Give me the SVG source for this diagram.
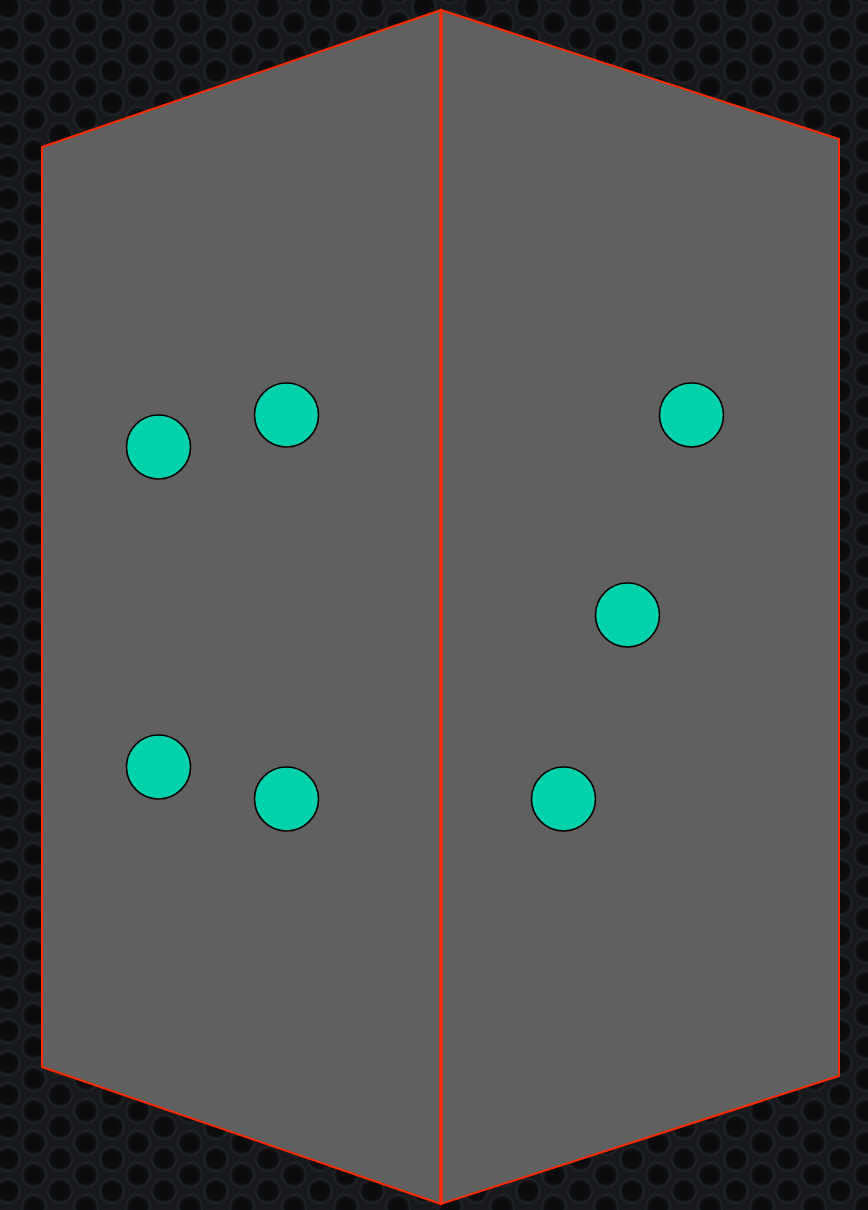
<svg xmlns="http://www.w3.org/2000/svg" width="868" height="1210" viewBox="0 0 868 1210">
  <defs>
    <radialGradient id="hole" cx="0.5" cy="0.5" r="0.5">
      <stop offset="0" stop-color="#090a0b"/>
      <stop offset="0.7" stop-color="#0c0d0f"/>
      <stop offset="0.85" stop-color="#181a1d"/>
      <stop offset="0.95" stop-color="#24272a"/>
      <stop offset="1" stop-color="#191b1e"/>
    </radialGradient>
    <pattern id="mesh" x="8" y="7" width="52" height="32" patternUnits="userSpaceOnUse">
      <rect width="52" height="32" fill="#17191c"/>
      <circle cx="0" cy="0" r="13" fill="url(#hole)"/>
      <circle cx="52" cy="0" r="13" fill="url(#hole)"/>
      <circle cx="0" cy="32" r="13" fill="url(#hole)"/>
      <circle cx="52" cy="32" r="13" fill="url(#hole)"/>
      <circle cx="26" cy="16" r="13" fill="url(#hole)"/>
    </pattern>
  </defs>
  <style>
    .panel { fill: #606060; stroke: #ff2a00; stroke-width: 2; stroke-linejoin: miter; }
    .spine { stroke: #ff2a00; stroke-width: 3.5; }
    .dot { fill: #00d2ab; stroke: #000000; stroke-width: 1.6; }
  </style>
  <rect width="868" height="1210" fill="url(#mesh)"/>
  <g id="left-panel">
    <polygon class="panel" points="42,147 441,10 441,1204 42,1067"/>
  </g>
  <g id="right-panel">
    <polygon class="panel" points="441,10 839,139 839,1076 441,1204"/>
  </g>
  <g id="connectors">
    <line class="spine" x1="441" y1="11" x2="441" y2="1203"/>
  </g>
  <g id="n1"><circle class="dot" cx="158.5" cy="447" r="32"/></g>
  <g id="n2"><circle class="dot" cx="286.5" cy="415" r="32"/></g>
  <g id="n3"><circle class="dot" cx="158.5" cy="767" r="32"/></g>
  <g id="n4"><circle class="dot" cx="286.5" cy="799" r="32"/></g>
  <g id="n5"><circle class="dot" cx="691.5" cy="415" r="32"/></g>
  <g id="n6"><circle class="dot" cx="627.5" cy="615" r="32"/></g>
  <g id="n7"><circle class="dot" cx="563.5" cy="799" r="32"/></g>
</svg>
